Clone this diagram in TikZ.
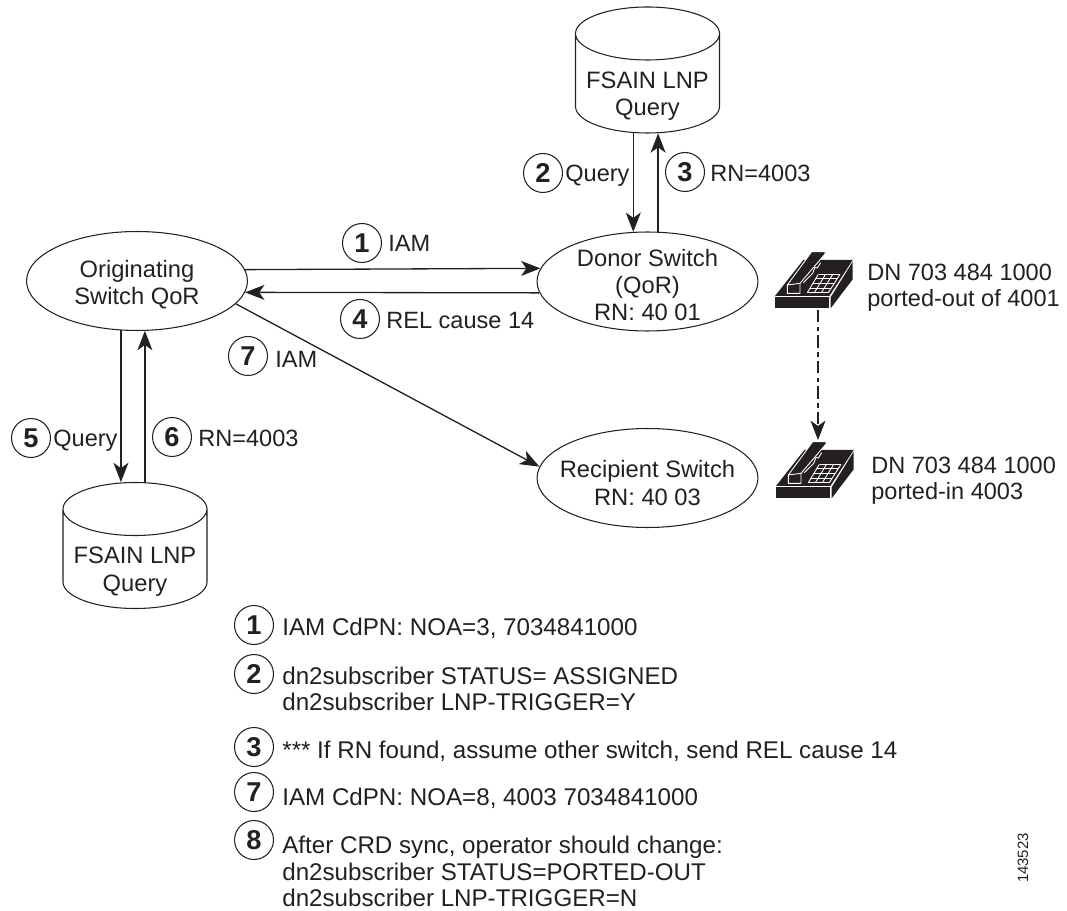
\documentclass[tikz,border=0pt]{standalone}
\usepackage{fontspec}
\setmainfont{Liberation Sans}
\usetikzlibrary{arrows.meta}
\usetikzlibrary{shapes.geometric}
\definecolor{mblack}{rgb}{0.14, 0.12, 0.13}
\tikzset{>={Stealth[length=11pt, width=8.5pt, inset=3pt]}}
\tikzset{txt/.style = {anchor=base west, inner sep=0, text=mblack, align=left, font=\fontsize{13.4}{15}\selectfont}}
\tikzset{note/.style = {txt, font=\fontsize{13.75}{15}\selectfont}}
\tikzset{mid/.style = {anchor=base, inner sep=0, text=mblack, align=center, font=\fontsize{13.5}{15.4}\selectfont}}
\tikzset{switch/.style = {draw=mblack, line width=0.6pt, ellipse, inner sep=0, minimum width=4.42cm, minimum height=1.98cm}}
\tikzset{lnpdb/.style = {rectangle, inner sep=0, minimum width=2.88cm, minimum height=2.52cm}}
\tikzset{badge/.style = {draw=mblack, line width=0.6pt, circle, inner sep=0, minimum size=0.78cm, text=mblack, font=\fontsize{15.5}{15.5}\selectfont\bfseries}}
\tikzset{flow/.style = {draw=mblack, line width=0.75pt, ->}}
\tikzset{can/.pic = {
    \draw [mblack, line width=0.6pt] (-72, -36.5) .. controls (-72, -51) and (-40, -63) .. (0, -63) .. controls (40, -63) and (72, -51) .. (72, -36.5)
      .. controls (72, -22) and (40, -10) .. (0, -10) .. controls (-40, -10) and (-72, -22) .. (-72, -36.5) -- (-72, 36.5)
      .. controls (-72, 51) and (-40, 63) .. (0, 63) .. controls (40, 63) and (72, 51) .. (72, 36.5) -- (72, -36.5);
  }}
\tikzset{phone/.pic = {
    \begin{scope}[x=0.00667cm, y=-0.00667cm]
      \fill [mblack] (15, 172) rectangle (178, 205);
      \fill [mblack] (15, 168) -- (178, 168) -- (248, 60) -- (100, 60) -- cycle;
      \fill [mblack] (182, 205) -- (248, 118) -- (248, 65) -- (182, 172) -- cycle;
      % handset
      \draw [white, fill=mblack, line width=0.5pt] (52, 135) -- (52, 160) -- (90, 160) -- (90, 130) -- (165, 42) -- (165, 35) -- (125, 35) -- cycle;
      \draw [white, line width=0.5pt] (52, 135) -- (90, 130);
      \draw [white, line width=0.5pt] (100, 128) -- (128, 100) -- (135, 82) -- (142, 84) -- (152, 68);
      % keypad
      \foreach \t in {0, 1, 2, 3, 4} {
        \draw [white, line width=0.5pt] (112 + 35*\t/4, 158 - 55*\t/4) -- (175 + 35*\t/4, 158 - 55*\t/4);
      }
      \foreach \t in {0, 1, 2, 3} {
        \draw [white, line width=0.5pt] (112 + 63*\t/3, 158) -- (145 + 65*\t/3, 103);
      }
    \end{scope}
  }}

\begin{document}
\begin{tikzpicture}[x=0.02cm, y=-0.02cm]
    \useasboundingbox (0, 0) rectangle (1067, 911);

    \node [switch] (orig) at (137, 281) {};
    \node [switch] (donor) at (647.5, 281.5) {};
    \node [switch] (recip) at (647.5, 478) {};
    \pic at (647.5, 70) {can};
    \pic at (135, 545.5) {can};
    \node [lnpdb] (topdb) at (647.5, 70) {};
    \node [lnpdb] (lowdb) at (135, 545.5) {};

    \node [mid] (origtxt) at (137, 305) {Originating\\Switch QoR};
    \node [mid] (donortxt) at (647.5, 321) {Donor Switch\\(QoR)\\RN: 40 01};
    \node [mid] (reciptxt) at (647.5, 505) {Recipient Switch\\RN: 40 03};
    \node [mid] (topdbtxt) at (647.5, 116) {FSAIN LNP\\Query};
    \node [mid] (lowdbtxt) at (135, 591) {FSAIN LNP\\Query};

    \draw [flow] (orig.6.4) -- (donor.173.4);
    \draw [flow] (donor.186.7) -- (orig.-6.9);
    \draw [flow] (orig.-13) -- (recip.174.2);
    \draw [flow] (donor.106.5 |- topdb.south) -- (donor.106.5);
    \draw [flow] (donor.78) -- (donor.78 |- topdb.south);
    \draw [flow] (orig.252) -- (orig.252 |- lowdb.north);
    \draw [flow] (orig.279.9 |- lowdb.north) -- (orig.279.9);

    \foreach \n/\d/\x/\y in {a/1/362/243, b/4/360/319, c/7/248/356, d/2/543/173, e/3/685/172, f/5/31/438, g/6/172/437,
                             h/1/254/625, i/2/254/674, j/3/254/747, k/7/254/792, l/8/254/840} {
      \node [badge] (badge\n) at (\x, \y) {\d};
    }

    \node [txt] (iamtop) at (388, 251.5) {IAM};
    \node [txt] (rel) at (386, 328.5) {REL cause 14};
    \node [txt] (iammid) at (275, 367.5) {IAM};
    \node [txt] (qtop) at (565, 181.5) {Query};
    \node [txt] (rntop) at (710, 181.5) {RN=4003};
    \node [txt] (qlow) at (53, 446.5) {Query};
    \node [txt] (rnlow) at (198, 446.5) {RN=4003};

    \node [note] (noteone) at (282, 635.5) {IAM CdPN: NOA=3, 7034841000};
    \node [note] (notetwo) at (282, 710.5) {dn2subscriber STATUS= ASSIGNED\\dn2subscriber LNP-TRIGGER=Y};
    \node [note] (notethree) at (282, 758.5) {*** If RN found, assume other switch, send REL cause 14};
    \node [note] (noteseven) at (282, 805.5) {IAM CdPN: NOA=8, 4003 7034841000};
    \node [note] (noteeight) at (282, 906.5) {After CRD sync, operator should change:\\dn2subscriber STATUS=PORTED-OUT\\dn2subscriber LNP-TRIGGER=N};

    \pic at (770, 240) {phone};
    \pic at (771, 430) {phone};
    \coordinate (phoneout) at (818, 310);
    \coordinate (phonein) at (818, 440);
    \draw [mblack, line width=0.6pt, dash pattern=on 7pt off 2.5pt on 2.5pt off 2.5pt, ->] (phoneout) -- (phonein);

    \node [txt] (dnout) at (867, 306.5) {DN 703 484 1000\\ported-out of 4001};
    \node [txt] (dnin) at (871, 500) {DN 703 484 1000\\ported-in 4003};

    \node [text=mblack, inner sep=0, rotate=90, font=\fontsize{8.5}{8.5}\selectfont] (figno) at (1023, 858) {143523};
  \end{tikzpicture}
\end{document}
